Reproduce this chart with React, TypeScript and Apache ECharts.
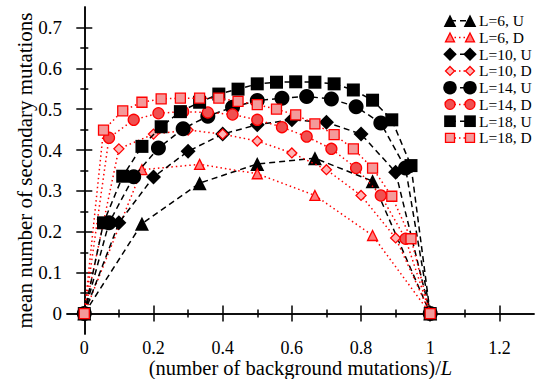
import React, { useEffect, useRef } from 'react';
import * as echarts from 'echarts';

// Chain lengths L and mean number of secondary mutations at k/L, k = 0..L
const seriesNames = ['L=6, U', 'L=6, D', 'L=10, U', 'L=10, D', 'L=14, U', 'L=14, D', 'L=18, U', 'L=18, D'];
const seriesL = [6, 6, 10, 10, 14, 14, 18, 18];

const u6 = [0, 0.22, 0.319, 0.366, 0.38, 0.324, 0];
const d6 = [0, 0.352, 0.365, 0.342, 0.289, 0.191, 0];
const u10 = [0, 0.222, 0.334, 0.397, 0.439, 0.462, 0.474, 0.468, 0.439, 0.346, 0];
const d10 = [0, 0.403, 0.439, 0.449, 0.439, 0.422, 0.393, 0.352, 0.289, 0.185, 0];
const u14 = [0, 0.222, 0.335, 0.405, 0.452, 0.483, 0.505, 0.521, 0.527, 0.531, 0.525, 0.506, 0.466, 0.356, 0];
const d14 = [0, 0.43, 0.474, 0.49, 0.494, 0.492, 0.487, 0.474, 0.456, 0.433, 0.403, 0.356, 0.289, 0.183, 0];
const u18 = [0, 0.222, 0.336, 0.409, 0.457, 0.494, 0.517, 0.537, 0.549, 0.562, 0.566, 0.567, 0.566, 0.562, 0.547, 0.522, 0.474, 0.362, 0];
const d18 = [0, 0.449, 0.496, 0.517, 0.525, 0.527, 0.527, 0.527, 0.519, 0.511, 0.5, 0.486, 0.464, 0.438, 0.403, 0.356, 0.287, 0.183, 0];
const seriesValues = [u6, d6, u10, d10, u14, d14, u18, d18];

const xMajorTicks = [0, 0.2, 0.4, 0.6, 0.8, 1, 1.2];
const xMinorTicks = [0.1, 0.3, 0.5, 0.7, 0.9, 1.1];
const yMajorTicks = [0, 0.1, 0.2, 0.3, 0.4, 0.5, 0.6, 0.7];
const yMinorTicks = [0.05, 0.15, 0.25, 0.35, 0.45, 0.55, 0.65];

const FONT = "'Liberation Serif', 'Times New Roman', serif";

type Sty = { color: string; fill: string; symbol: string; size: number; dash: number[] };
const styles: Sty[] = [
  { color: '#000', fill: '#000', symbol: 'triangle', size: 14, dash: [6, 4] },
  { color: '#ff0000', fill: '#ff7a7a', symbol: 'triangle', size: 10, dash: [1.5, 3] },
  { color: '#000', fill: '#000', symbol: 'diamond', size: 15, dash: [6, 4] },
  { color: '#ff0000', fill: '#ffb4b4', symbol: 'diamond', size: 10, dash: [1.5, 3] },
  { color: '#000', fill: '#000', symbol: 'circle', size: 15, dash: [6, 4] },
  { color: '#ff0000', fill: '#f05050', symbol: 'circle', size: 11, dash: [1.5, 3] },
  { color: '#000', fill: '#000', symbol: 'rect', size: 13, dash: [6, 4] },
  { color: '#ff0000', fill: '#f49a9a', symbol: 'rect', size: 10, dash: [1.5, 3] },
];

function legendSymbol(s: Sty, cx: number, cy: number) {
  const h = s.size / 2;
  const style = { fill: s.fill, stroke: s.color, lineWidth: s.color === '#000' ? 0 : 1.3 };
  if (s.symbol === 'triangle') {
    return { type: 'polygon', shape: { points: [[cx, cy - h], [cx + h, cy + h], [cx - h, cy + h]] }, style };
  }
  if (s.symbol === 'diamond') {
    return { type: 'polygon', shape: { points: [[cx, cy - h], [cx + h, cy], [cx, cy + h], [cx - h, cy]] }, style };
  }
  if (s.symbol === 'circle') {
    return { type: 'circle', shape: { cx, cy, r: h }, style };
  }
  return { type: 'rect', shape: { x: cx - h, y: cy - h, width: s.size, height: s.size }, style };
}

export default function App() {
  const ref = useRef<HTMLDivElement>(null);
  useEffect(() => {
    if (!ref.current) return;
    const chart = echarts.init(ref.current, undefined, { renderer: 'svg' });

    const series = seriesNames.map((name, i) => {
      const s = styles[i];
      const L = seriesL[i];
      return {
        name,
        type: 'line',
        xAxisIndex: 0,
        yAxisIndex: 0,
        data: seriesValues[i].map((v, k) => [k / L, v]),
        symbol: s.symbol,
        symbolSize: s.size,
        lineStyle: { color: s.color, width: 1.5, type: s.dash },
        itemStyle: { color: s.fill, borderColor: s.color, borderWidth: s.color === '#000' ? 0 : 1.3 },
        z: 2 + i,
      };
    });

    const legendChildren: any[] = [];
    seriesNames.forEach((name, i) => {
      const s = styles[i];
      const y = 20.7 + i * 16.75;
      const sl = { ...s, size: s.size * 0.9 };
      legendChildren.push({ type: 'line', shape: { x1: 450, y1: y, x2: 470, y2: y }, style: { stroke: s.color, lineWidth: 1.5, lineDash: s.dash } });
      legendChildren.push(legendSymbol(sl, 450, y));
      legendChildren.push(legendSymbol(sl, 470, y));
      legendChildren.push({ type: 'text', x: 479, y, style: { text: name, fill: '#000', font: `15.5px ${FONT}`, verticalAlign: 'middle', align: 'left' } });
    });

    const axLine = { show: true, lineStyle: { color: '#000', width: 1.5 } };
    const baseX = { type: 'value', min: -0.05, max: 1.3, splitLine: { show: false } };
    const baseY = { type: 'value', min: -0.05, max: 0.75, splitLine: { show: false } };

    chart.setOption({
      animation: false,
      grid: { left: 67, right: 1, top: 7, bottom: 45, show: false, outerBoundsMode: 'none', containLabel: false },
      xAxis: [
        {
          ...baseX, position: 'bottom', axisLine: axLine,
          axisTick: { show: true, inside: true, length: 8, customValues: xMajorTicks, lineStyle: { color: '#000', width: 1.5 } },
          axisLabel: { show: true, customValues: xMajorTicks, formatter: (v: number) => String(v), color: '#000', fontFamily: FONT, fontSize: 18, lineHeight: 18, margin: 5 },
          name: '(number of background mutations)/{i|L}', nameLocation: 'middle', nameGap: 24, nameMoveOverlap: false,
          nameTextStyle: { color: '#000', fontFamily: FONT, fontSize: 20.5, lineHeight: 20.5, rich: { i: { fontStyle: 'italic', fontFamily: FONT, fontSize: 20.5, lineHeight: 20.5, color: '#000' } } },
        },
        { ...baseX, position: 'bottom', axisLine: { show: false }, axisTick: { show: true, inside: true, length: 4, customValues: xMinorTicks, lineStyle: { color: '#000', width: 1.5 } }, axisLabel: { show: false } },
        { ...baseX, position: 'top', axisLine: axLine, axisTick: { show: true, inside: true, length: 8, customValues: xMajorTicks, lineStyle: { color: '#000', width: 1.5 } }, axisLabel: { show: false } },
        { ...baseX, position: 'top', axisLine: { show: false }, axisTick: { show: true, inside: true, length: 4, customValues: xMinorTicks, lineStyle: { color: '#000', width: 1.5 } }, axisLabel: { show: false } },
      ],
      yAxis: [
        {
          ...baseY, position: 'left', axisLine: axLine,
          axisTick: { show: true, inside: true, length: 8, customValues: yMajorTicks, lineStyle: { color: '#000', width: 1.5 } },
          axisLabel: { show: true, customValues: yMajorTicks, formatter: (v: number) => String(v), color: '#000', fontFamily: FONT, fontSize: 19, margin: 5 },
          name: 'mean number of secondary mutations', nameLocation: 'middle', nameGap: 32, nameMoveOverlap: false,
          nameTextStyle: { color: '#000', fontFamily: FONT, fontSize: 21 },
        },
        { ...baseY, position: 'left', axisLine: { show: false }, axisTick: { show: true, inside: true, length: 4, customValues: yMinorTicks, lineStyle: { color: '#000', width: 1.5 } }, axisLabel: { show: false } },
        { ...baseY, position: 'right', axisLine: axLine, axisTick: { show: true, inside: true, length: 8, customValues: yMajorTicks, lineStyle: { color: '#000', width: 1.5 } }, axisLabel: { show: false } },
        { ...baseY, position: 'right', axisLine: { show: false }, axisTick: { show: true, inside: true, length: 4, customValues: yMinorTicks, lineStyle: { color: '#000', width: 1.5 } }, axisLabel: { show: false } },
      ],
      series,
      graphic: [{ type: 'group', children: legendChildren }],
    });
    return () => chart.dispose();
  }, []);
  return <div ref={ref} style={{ position: 'fixed', left: 0, top: 0, width: 535, height: 379, background: '#fff' }} />;
}
